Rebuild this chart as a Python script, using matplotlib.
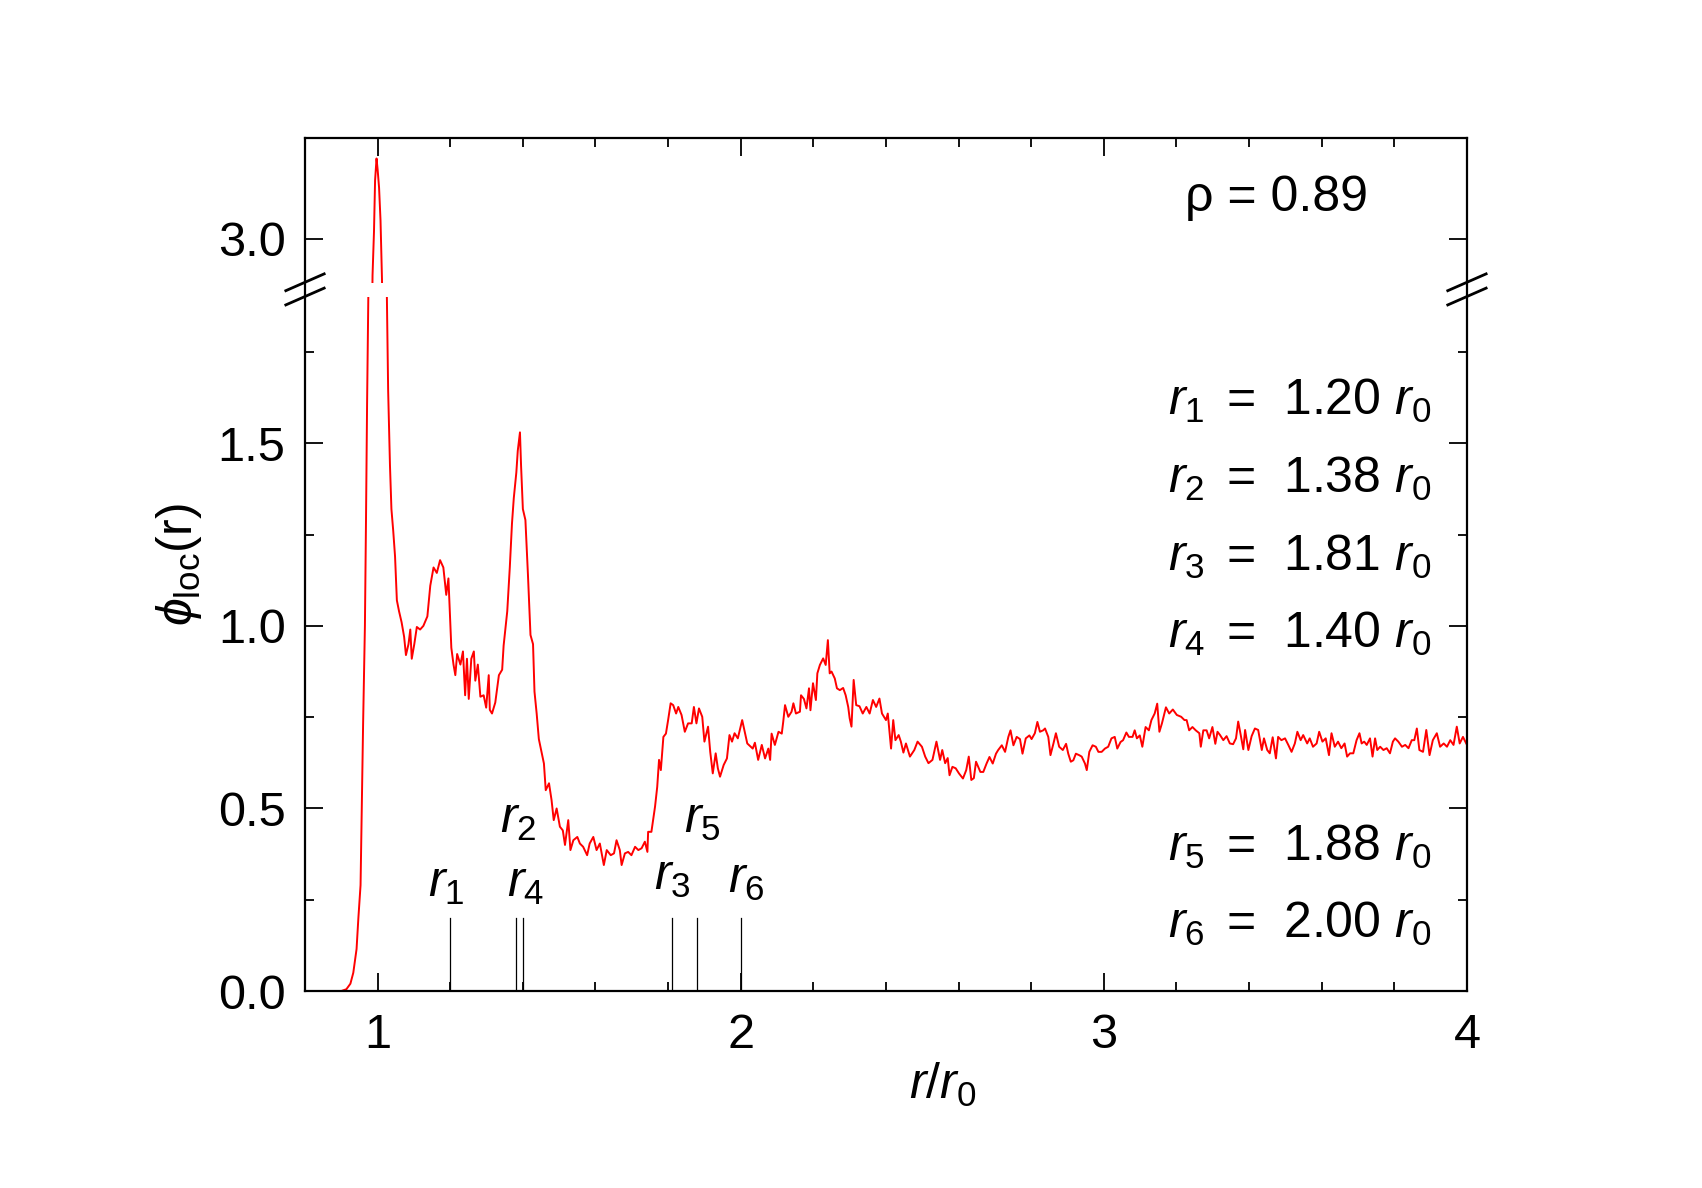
import matplotlib
matplotlib.use("Agg")
import matplotlib.pyplot as plt
import matplotlib.transforms as mtransforms
from matplotlib.patches import Rectangle
from matplotlib.ticker import FixedLocator, MultipleLocator
import numpy as np

plt.rcParams["font.family"] = ["Liberation Sans", "DejaVu Sans"]
plt.rcParams["mathtext.fontset"] = "custom"
plt.rcParams["mathtext.rm"] = "Liberation Sans"
plt.rcParams["mathtext.it"] = "Liberation Sans:italic"

# --- data ---
# first peak region (r/r0 from 0.8 to 1.45)
r_peak = [0.80, 0.85, 0.90, 0.914, 0.925, 0.933, 0.942, 0.947, 0.953, 0.956, 0.960, 0.965,
          0.968, 0.971, 0.986, 0.990, 0.993, 0.997, 1.000, 1.004, 1.008, 1.012, 1.029,
          1.034, 1.038, 1.043, 1.048, 1.053, 1.059, 1.066, 1.073, 1.078, 1.085, 1.090,
          1.094, 1.101, 1.108, 1.117, 1.126, 1.137, 1.145, 1.154, 1.163, 1.172, 1.181,
          1.189, 1.195, 1.203, 1.209, 1.214, 1.219, 1.228, 1.235, 1.241, 1.246, 1.251,
          1.258, 1.265, 1.269, 1.276, 1.283, 1.292, 1.299, 1.306, 1.309, 1.315, 1.324,
          1.334, 1.343, 1.347, 1.357, 1.364, 1.370, 1.375, 1.382, 1.386, 1.392, 1.395,
          1.400, 1.407, 1.414, 1.421, 1.428, 1.432, 1.438, 1.444]
phi_peak = [0.0, 0.0, 0.0, 0.005, 0.02, 0.05, 0.115, 0.20, 0.29, 0.48, 0.73, 1.00,
            1.29, 1.61, 2.90, 3.02, 3.16, 3.22, 3.19, 3.14, 3.05, 2.89, 1.644,
            1.44, 1.32, 1.26, 1.19, 1.07, 1.04, 1.01, 0.97, 0.92, 0.95, 0.99,
            0.91, 0.95, 0.997, 0.99, 1.00, 1.026, 1.11, 1.16, 1.145, 1.18, 1.16,
            1.085, 1.13, 0.94, 0.894, 0.865, 0.923, 0.894, 0.93, 0.81, 0.91, 0.80,
            0.91, 0.93, 0.85, 0.894, 0.806, 0.81, 0.776, 0.865, 0.77, 0.76, 0.79,
            0.865, 0.88, 0.946, 1.04, 1.16, 1.28, 1.35, 1.42, 1.48, 1.53, 1.44,
            1.32, 1.29, 1.14, 0.975, 0.95, 0.82, 0.76, 0.69]

# valley and second shell (1.45 to 2.0)
r_mid = [1.458, 1.463, 1.472, 1.479, 1.485, 1.493, 1.502, 1.510, 1.516, 1.525, 1.531,
         1.539, 1.550, 1.557, 1.566, 1.577, 1.584, 1.594, 1.603, 1.612, 1.623, 1.631,
         1.642, 1.651, 1.658, 1.667, 1.672, 1.681, 1.690, 1.699, 1.709, 1.718, 1.727,
         1.736, 1.743, 1.745, 1.754, 1.764, 1.770, 1.775, 1.780, 1.787, 1.794, 1.800,
         1.807, 1.814, 1.822, 1.828, 1.837, 1.846, 1.855, 1.865, 1.871, 1.878, 1.885,
         1.894, 1.900, 1.910, 1.916, 1.923, 1.931, 1.937, 1.943, 1.953, 1.962, 1.969,
         1.976, 1.983, 1.992, 2.004]
phi_mid = [0.623, 0.55, 0.569, 0.523, 0.468, 0.50, 0.45, 0.44, 0.40, 0.468, 0.386,
           0.413, 0.422, 0.404, 0.395, 0.372, 0.404, 0.422, 0.386, 0.404, 0.345, 0.386,
           0.372, 0.377, 0.413, 0.386, 0.345, 0.377, 0.381, 0.372, 0.395, 0.386, 0.391,
           0.409, 0.381, 0.436, 0.436, 0.505, 0.559, 0.633, 0.605, 0.696, 0.705, 0.742,
           0.788, 0.783, 0.76, 0.778, 0.756, 0.71, 0.733, 0.733, 0.778, 0.733, 0.774,
           0.751, 0.683, 0.724, 0.655, 0.596, 0.651, 0.61, 0.587, 0.619, 0.637, 0.701,
           0.683, 0.706, 0.692, 0.742]

# third shell (2.0 to 2.7)
r_far = [2.018, 2.033, 2.039, 2.048, 2.058, 2.067, 2.076, 2.081, 2.085, 2.094, 2.104,
         2.113, 2.117, 2.122, 2.131, 2.140, 2.145, 2.152, 2.163, 2.166, 2.174, 2.181,
         2.188, 2.192, 2.199, 2.207, 2.211, 2.218, 2.227, 2.234, 2.240, 2.245, 2.250,
         2.259, 2.265, 2.273, 2.282, 2.289, 2.296, 2.300, 2.305, 2.311, 2.318, 2.327,
         2.336, 2.346, 2.355, 2.364, 2.373, 2.382, 2.389, 2.400, 2.405, 2.414, 2.420,
         2.426, 2.435, 2.441, 2.448, 2.455, 2.466, 2.478, 2.487, 2.499, 2.508, 2.517,
         2.528, 2.539, 2.549, 2.555, 2.563, 2.570, 2.575, 2.583, 2.592, 2.601, 2.612,
         2.621, 2.628, 2.635, 2.642, 2.648, 2.660, 2.668, 2.677, 2.685, 2.694]
phi_far = [0.678, 0.664, 0.68, 0.633, 0.674, 0.637, 0.664, 0.633, 0.705, 0.674, 0.71,
           0.705, 0.737, 0.783, 0.751, 0.765, 0.788, 0.76, 0.765, 0.81, 0.80, 0.774,
           0.829, 0.769, 0.843, 0.797, 0.870, 0.893, 0.911, 0.893, 0.961, 0.870, 0.875,
           0.856, 0.829, 0.824, 0.83, 0.81, 0.778, 0.747, 0.724, 0.852, 0.783, 0.78,
           0.760, 0.778, 0.76, 0.797, 0.778, 0.801, 0.76, 0.742, 0.76, 0.664, 0.742,
           0.687, 0.701, 0.683, 0.653, 0.678, 0.642, 0.66, 0.683, 0.669, 0.642, 0.624,
           0.633, 0.683, 0.633, 0.66, 0.624, 0.638, 0.591, 0.614, 0.61, 0.596, 0.582,
           0.605, 0.642, 0.578, 0.583, 0.628, 0.60, 0.60, 0.623, 0.641, 0.623]

# tail (2.7 to 4.0)
r_tail = [2.703, 2.709, 2.719, 2.728, 2.737, 2.743, 2.751, 2.760, 2.769, 2.776, 2.785,
          2.795, 2.801, 2.810, 2.817, 2.824, 2.833, 2.838, 2.847, 2.853, 2.861, 2.868,
          2.877, 2.887, 2.896, 2.902, 2.909, 2.916, 2.923, 2.932, 2.939, 2.948, 2.953,
          2.960, 2.969, 2.978, 2.985, 2.994, 3.003, 3.012, 3.021, 3.030, 3.037, 3.046,
          3.053, 3.062, 3.069, 3.079, 3.085, 3.091, 3.099, 3.106, 3.115, 3.124, 3.131,
          3.140, 3.147, 3.153, 3.160, 3.171, 3.180, 3.190, 3.201, 3.213, 3.222, 3.228,
          3.235, 3.244, 3.253, 3.263, 3.267, 3.274, 3.283, 3.290, 3.299, 3.307, 3.313,
          3.320, 3.329, 3.338, 3.347, 3.356, 3.364, 3.370, 3.377, 3.384, 3.389, 3.398,
          3.407, 3.416, 3.425, 3.435, 3.441, 3.450, 3.457, 3.465, 3.474, 3.480, 3.489,
          3.499, 3.508, 3.517, 3.526, 3.533, 3.542, 3.549, 3.560, 3.567, 3.576, 3.586,
          3.593, 3.602, 3.611, 3.620, 3.627, 3.636, 3.645, 3.654, 3.663, 3.670, 3.678,
          3.687, 3.696, 3.704, 3.710, 3.717, 3.724, 3.733, 3.740, 3.747, 3.753, 3.761,
          3.770, 3.779, 3.788, 3.796, 3.802, 3.811, 3.821, 3.830, 3.839, 3.848, 3.855,
          3.862, 3.869, 3.879, 3.888, 3.897, 3.906, 3.917, 3.926, 3.936, 3.945, 3.954,
          3.963, 3.972, 3.980, 3.989, 3.998]
phi_tail = [0.650, 0.660, 0.673, 0.655, 0.696, 0.714, 0.673, 0.696, 0.69, 0.650, 0.692,
            0.700, 0.69, 0.706, 0.737, 0.710, 0.714, 0.719, 0.696, 0.646, 0.677, 0.706,
            0.669, 0.660, 0.677, 0.650, 0.628, 0.632, 0.650, 0.646, 0.642, 0.623, 0.605,
            0.655, 0.673, 0.669, 0.655, 0.655, 0.664, 0.669, 0.692, 0.696, 0.664, 0.682,
            0.687, 0.708, 0.696, 0.696, 0.714, 0.692, 0.700, 0.669, 0.723, 0.714, 0.742,
            0.760, 0.787, 0.710, 0.733, 0.777, 0.760, 0.771, 0.756, 0.751, 0.742, 0.742,
            0.714, 0.723, 0.714, 0.706, 0.669, 0.714, 0.714, 0.692, 0.723, 0.677, 0.710,
            0.701, 0.687, 0.698, 0.678, 0.676, 0.692, 0.738, 0.701, 0.662, 0.715, 0.660,
            0.698, 0.719, 0.715, 0.660, 0.692, 0.660, 0.651, 0.695, 0.637, 0.696, 0.687,
            0.692, 0.674, 0.655, 0.678, 0.710, 0.687, 0.701, 0.678, 0.692, 0.669, 0.678,
            0.710, 0.683, 0.692, 0.646, 0.706, 0.669, 0.683, 0.665, 0.678, 0.642, 0.651,
            0.651, 0.687, 0.706, 0.678, 0.683, 0.674, 0.692, 0.642, 0.692, 0.660, 0.669,
            0.660, 0.665, 0.651, 0.683, 0.692, 0.683, 0.669, 0.674, 0.665, 0.687, 0.687,
            0.719, 0.660, 0.655, 0.715, 0.646, 0.687, 0.706, 0.669, 0.678, 0.669, 0.687,
            0.674, 0.724, 0.678, 0.696, 0.678]

r = np.array(r_peak + r_mid + r_far + r_tail)
phi = np.array(phi_peak + phi_mid + phi_far + phi_tail)

# shell distances marked at the bottom
shell_names = ["1", "2", "3", "4", "5", "6"]
shell_r = [1.20, 1.38, 1.81, 1.40, 1.88, 2.00]
shell_text = ["1.20", "1.38", "1.81", "1.40", "1.88", "2.00"]
label_xy = {"1": (1.139, 0.258), "2": (1.336, 0.433), "3": (1.761, 0.277),
            "4": (1.357, 0.258), "5": (1.843, 0.433), "6": (1.964, 0.268)}
density = 0.89

# broken y axis: lower part 0..1.90 shown as is, upper part shifted down
low_top = 1.90
up_bottom = 1.94
shift = 0.94          # real value = plotted value + shift in the upper part
y_top = 2.336

fig = plt.figure(figsize=(17.02, 11.88), dpi=100)
ax = fig.add_axes([0.1792, 0.1658, 0.6827, 0.718])

lo, = ax.plot(r, phi, color="red", lw=1.4)
lo.set_clip_path(Rectangle((0.8, 0), 3.2, low_top, transform=ax.transData))
hi, = ax.plot(r, phi - shift, color="red", lw=1.4)
hi.set_clip_path(Rectangle((0.8, up_bottom), 3.2, 5, transform=ax.transData))

for rv in shell_r:
    ax.plot([rv, rv], [0, 0.2], color="black", lw=0.9)
for name in shell_names:
    x0, y0 = label_xy[name]
    ax.text(x0, y0, r"$r_{%s}$" % name, fontsize=36, ha="left", va="baseline")

ax.set_xlim(0.8, 4)
ax.set_ylim(0, y_top)
ax.xaxis.set_major_locator(FixedLocator([1, 2, 3, 4]))
ax.xaxis.set_minor_locator(MultipleLocator(0.2))
ax.yaxis.set_major_locator(FixedLocator([0, 0.5, 1.0, 1.5, 3.0 - shift]))
ax.set_yticklabels(["0.0", "0.5", "1.0", "1.5", "3.0"])
ax.yaxis.set_minor_locator(FixedLocator([0.25, 0.75, 1.25, 1.75]))
ax.tick_params(which="both", direction="in", top=True, right=True, width=1.3)
ax.tick_params(which="major", length=13, labelsize=35)
ax.tick_params(axis="y", which="major", pad=14)
ax.tick_params(axis="x", which="major", pad=16)
ax.tick_params(which="minor", length=6.5)
for s in ax.spines.values():
    s.set_linewidth(1.6)

# break marks on both sides
bt = mtransforms.blended_transform_factory(ax.transAxes, ax.transData)
for xs in (0, 1):
    for yc in (1.902, 1.941):
        ax.plot([xs - 0.0165, xs + 0.0165], [yc - 0.023, yc + 0.023], color="black",
                lw=2.0, transform=bt, clip_on=False)

ax.set_xlabel(r"$r$/$r_0$", fontsize=36, labelpad=2)
ax.xaxis.label.set_x(0.549)
ax.set_ylabel(r"$\phi_{\rm loc}$(r)", fontsize=36, labelpad=10)

ax.text(0.836, 0.914, "ρ = %.2f" % density, transform=ax.transAxes, fontsize=36,
        ha="center", va="baseline")
rows_y = [0.675, 0.584, 0.492, 0.402, 0.152, 0.062]
for name, txt, yy in zip(shell_names, shell_text, rows_y):
    ax.text(0.969, yy, r"$r_{%s}\,$ =  %s $r_0$" % (name, txt), transform=ax.transAxes,
            fontsize=36, ha="right", va="baseline")

fig.savefig("out.png", dpi=100)
print("saved")
